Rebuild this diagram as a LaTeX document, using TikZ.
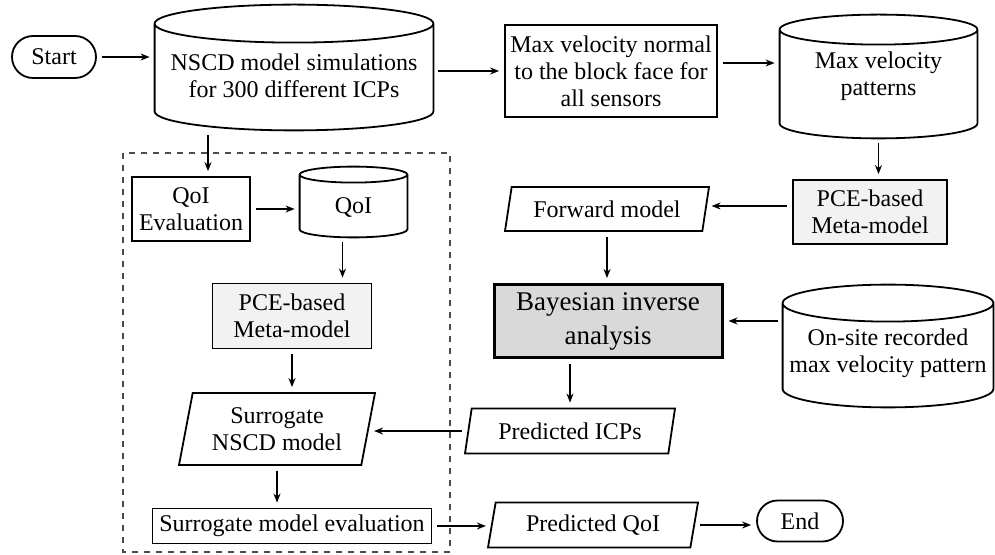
\documentclass[tikz,border=0pt]{standalone}
\usepackage{fontspec}
\setmainfont{Liberation Serif}
\usetikzlibrary{shapes.geometric,shapes.misc,arrows.meta,calc}
\tikzset{
  base/.style={draw, line width=0.9pt, align=center, inner sep=2pt,
    font=\fontsize{12}{13.5}\selectfont},
  box/.style={base, rectangle},
  meta/.style={box, fill=gray!10},
  io/.style={base, trapezium, trapezium left angle=75,
    trapezium right angle=105, trapezium stretches body},
  db/.style={inner sep=0pt, font=\fontsize{12}{13.5}\selectfont},
  dbline/.style={line width=0.9pt},
  term/.style={base, rounded rectangle},
  arr/.style={-{Stealth[length=4.5pt,width=3.5pt]}, line width=0.7pt,
    shorten <=2.5pt, shorten >=2.5pt}
}
% texto de cilindro, bajado un poco
\newcommand\cyltext[2]{\raisebox{-#1}[0pt][0pt]{\begin{tabular}{@{}c@{}}#2\end{tabular}}}
% contorno de cilindro: nodo, radio de la tapa
\newcommand\cylout[2]{%
  \draw[dbline] let \p1=($(#1.east)-(#1.west)$) in
    ([yshift=-#2]#1.north west) -- ([yshift=#2]#1.south west)
    arc[start angle=180, end angle=360, x radius=0.5*\x1, y radius=#2]
    -- ([yshift=-#2]#1.north east)
    arc[start angle=0, end angle=360, x radius=0.5*\x1, y radius=#2];
}
\begin{document}
\begin{tikzpicture}[x=0.5pt,y=-0.5pt]
\useasboundingbox (0,0) rectangle (995,555);
% Fila superior
\node[term, minimum width=46pt, minimum height=21pt] (start) at (54,57) {Start};
\node[db, minimum width=139pt, minimum height=62.5pt] (nscd) at (294,67.5)
  {\cyltext{8.5pt}{NSCD model simulations\\for 300 different ICPs}};
\node[box, minimum width=106pt, minimum height=46pt] (maxnorm) at (611,71)
  {Max velocity normal\\to the block face for\\all sensors};
\node[db, minimum width=98.5pt, minimum height=61.5pt] (patterns) at (878.5,76.5)
  {\cyltext{3pt}{Max velocity\\patterns}};
% Analisis inverso
\node[meta, minimum width=77pt, minimum height=32pt] (pcer) at (870,212)
  {PCE-based\\Meta-model};
\node[io, minimum width=102pt, minimum height=22pt] (forward) at (607,209)
  {Forward model};
\node[box, fill=gray!30, line width=1.5pt, minimum width=114pt, minimum height=36.5pt,
  font=\fontsize{13.5}{17}\selectfont] (bayes) at (608,321)
  {Bayesian inverse\\analysis};
\node[db, minimum width=105pt, minimum height=61pt] (onsite) at (888,346)
  {\cyltext{7pt}{On-site recorded\\max velocity pattern}};
\node[io, minimum width=105pt, minimum height=22.5pt] (icps) at (570,431)
  {Predicted ICPs};
% Modelo sustituto
\node[box, minimum width=59pt, minimum height=32pt] (qoieval) at (191,209)
  {QoI\\Evaluation};
\node[db, minimum width=53.5pt, minimum height=35pt] (qoi) at (353.5,202)
  {\cyltext{6pt}{QoI}};
\node[meta, minimum width=79.5pt, minimum height=32.5pt] (pcel) at (292,316)
  {PCE-based\\Meta-model};
\node[io, minimum width=98pt, minimum height=36pt] (surr) at (277,429)
  {Surrogate\\NSCD model};
\node[box, minimum width=139.5pt, minimum height=17.5pt] (surreval) at (292,526)
  {Surrogate model evaluation};
\node[io, minimum width=105pt, minimum height=22.5pt] (predqoi) at (593,525)
  {Predicted QoI};
\node[term, minimum width=47pt, minimum height=20.5pt] (end) at (800,521) {End};
% Cilindros
\cylout{nscd}{9.5pt}
\cylout{patterns}{7.5pt}
\cylout{qoi}{4pt}
\cylout{onsite}{9.25pt}
% Recuadro
\draw[dashed, line width=0.6pt, black!70] (123,153) rectangle (450,552);
% Flechas
\draw[arr] (start.east) -- (start.east -| nscd.west);
\draw[arr] (maxnorm.west -| nscd.east) -- (maxnorm.west);
\draw[arr] ([yshift=4pt]maxnorm.east) -- ([yshift=4pt]maxnorm.east -| patterns.west);
\draw[arr] (patterns.south) -- (patterns.south |- pcer.north);
\draw[arr] ([yshift=3pt]pcer.west) -- ([yshift=3pt]pcer.west -| forward.east);
\draw[arr] (forward.south) -- (forward.south |- bayes.north);
\draw[arr] (bayes.east -| onsite.west) -- (bayes.east);
\draw[arr] (icps.north |- bayes.south) -- (icps.north);
\draw[arr] (icps.west) -- (icps.west -| surr.east);
\draw[arr] ([xshift=8.5pt]qoieval.north |- nscd.south) -- ([xshift=8.5pt]qoieval.north);
\draw[arr] (qoieval.east) -- (qoieval.east -| qoi.west);
\draw[arr] ([xshift=-5.5pt]qoi.south) -- ([xshift=-5.5pt]qoi.south |- pcel.north);
\draw[arr] (pcel.south) -- (pcel.south |- surr.north);
\draw[arr] (surr.south) -- (surr.south |- surreval.north);
\draw[arr] (surreval.east) -- (surreval.east -| predqoi.west);
\draw[arr] (predqoi.east) -- (predqoi.east -| end.west);
\end{tikzpicture}
\end{document}
